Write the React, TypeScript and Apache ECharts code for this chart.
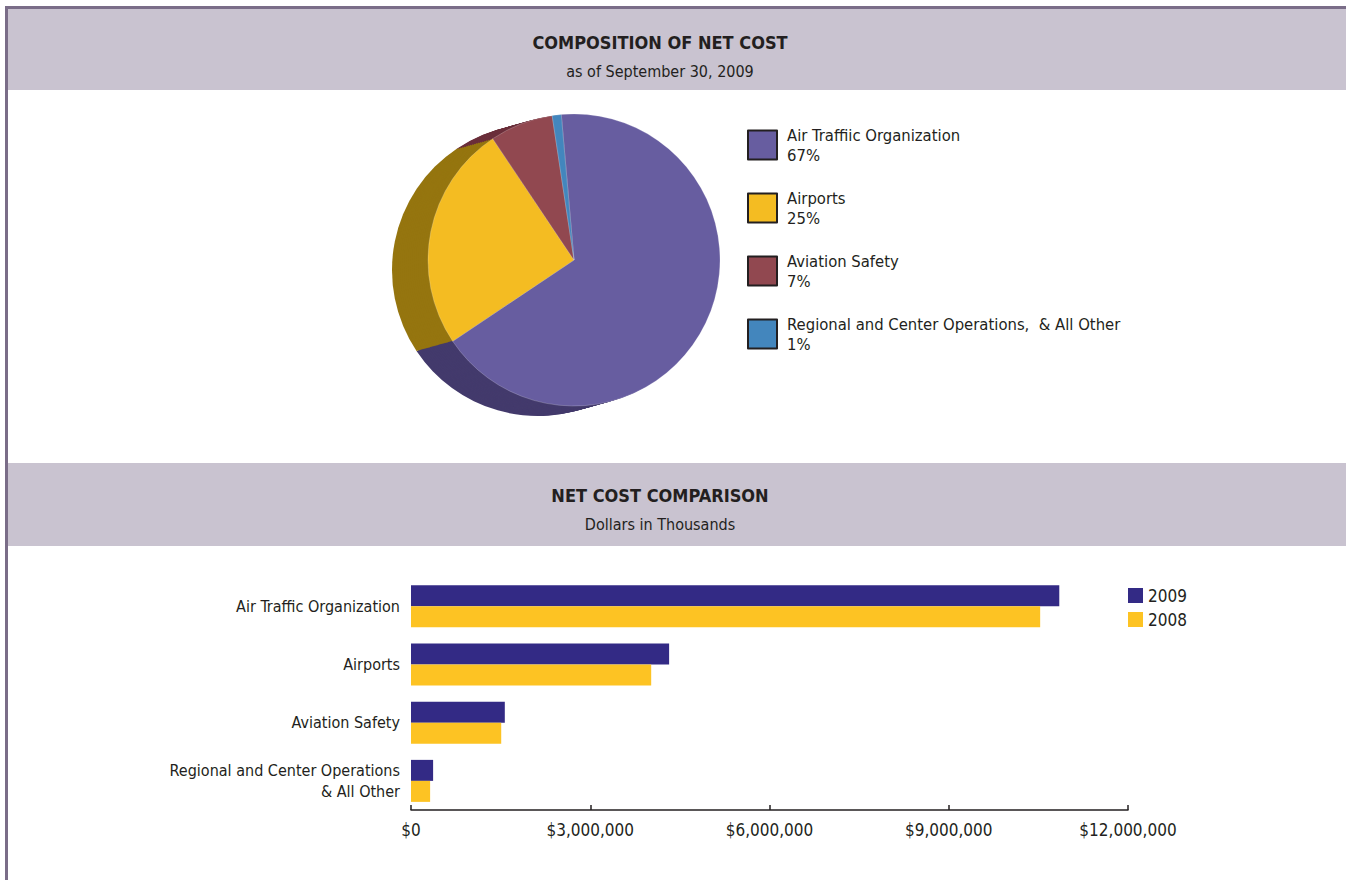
import React, { useEffect, useRef } from "react";
import * as echarts from "echarts";

const pieNames = [
  "Air Traffiic Organization",
  "Airports",
  "Aviation Safety",
  "Regional and Center Operations,  & All Other",
];
const pieShares = [67, 25, 7, 1];
const pieColors = ["#675da0", "#f4bc22", "#914850", "#4386bd"];
const pieSideColors = ["#433a6c", "#95750f", "#6b2f3b", "#2f6591"];

const barCategories = [
  "Air Traffic Organization",
  "Airports",
  "Aviation Safety",
  "Regional and Center Operations\n& All Other",
];
const years = ["2009", "2008"];
const values2009 = [10850000, 4320000, 1570000, 370000];
const values2008 = [10530000, 4020000, 1510000, 320000];
const barColors = ["#332a85", "#fdc323"];

const FONT = "'Liberation Sans Narrow', 'DejaVu Sans Condensed', 'Arial Narrow', sans-serif";
const INK = "#231f20";

export default function App() {
  const ref = useRef<HTMLDivElement>(null);
  useEffect(() => {
    if (!ref.current) return;
    const chart = echarts.init(ref.current, null, { renderer: "svg" });
    const cx = 574;
    const cy = 260;
    const r = 146;
    const steps = 18;
    const sideSeries: any[] = [];
    for (let i = steps; i >= 1; i--) {
      const t = i / steps;
      sideSeries.push({
        type: "pie",
        silent: true,
        z: 1,
        center: [cx - 36 * t, cy + 10 * t],
        radius: r,
        startAngle: 95,
        clockwise: true,
        label: { show: false },
        labelLine: { show: false },
        emphasis: { disabled: true },
        data: pieShares.map((v, k) => ({
          name: "side_" + k,
          value: v,
          itemStyle: { color: pieSideColors[k] },
        })),
      });
    }
    const option: any = {
      animation: false,
      backgroundColor: "#ffffff",
      textStyle: { fontFamily: FONT },
      graphic: [
        { type: "rect", z: -10, shape: { x: 8, y: 9, width: 1338, height: 81 }, style: { fill: "#c9c3d0" } },
        { type: "rect", z: -10, shape: { x: 8, y: 463, width: 1338, height: 83 }, style: { fill: "#c9c3d0" } },
        { type: "rect", z: -9, shape: { x: 5, y: 6, width: 1341, height: 3 }, style: { fill: "#7a6d88" } },
        { type: "rect", z: -9, shape: { x: 5, y: 6, width: 3, height: 874 }, style: { fill: "#7a6d88" } },
        { type: "text", x: 660, y: 42, style: { text: "COMPOSITION OF NET COST", fill: INK, font: `bold 18px ${FONT}`, textAlign: "center", textVerticalAlign: "middle" } },
        { type: "text", x: 660, y: 71, style: { text: "as of September 30, 2009", fill: INK, font: `16px ${FONT}`, textAlign: "center", textVerticalAlign: "middle" } },
        { type: "text", x: 660, y: 495, style: { text: "NET COST COMPARISON", fill: INK, font: `bold 18px ${FONT}`, textAlign: "center", textVerticalAlign: "middle" } },
        { type: "text", x: 660, y: 524, style: { text: "Dollars in Thousands", fill: INK, font: `16px ${FONT}`, textAlign: "center", textVerticalAlign: "middle" } },
      ],
      legend: [
        {
          orient: "vertical",
          left: 742,
          top: 120,
          itemWidth: 29,
          itemHeight: 29,
          itemGap: 23,
          icon: "rect",
          selectedMode: false,
          itemStyle: { borderColor: INK, borderWidth: 2 },
          textStyle: { fontFamily: FONT, fontSize: 16.5, lineHeight: 20, color: INK, padding: [0, 0, 0, 5] },
          formatter: (name: string) => name + "\n" + pieShares[pieNames.indexOf(name)] + "%",
          data: pieNames.map((n, k) => ({ name: n, itemStyle: { color: pieColors[k] } })),
        },
        {
          orient: "vertical",
          left: 1123,
          top: 582,
          itemWidth: 15,
          itemHeight: 15,
          itemGap: 7,
          icon: "rect",
          selectedMode: false,
          textStyle: { fontFamily: FONT, fontSize: 17, color: INK },
          data: years.map((y, k) => ({ name: y, itemStyle: { color: barColors[k] } })),
        },
      ],
      grid: { left: 411, right: 218, top: 577, bottom: 70, containLabel: false },
      xAxis: {
        type: "value",
        min: 0,
        max: 12000000,
        interval: 3000000,
        splitLine: { show: false },
        axisLine: { show: true, lineStyle: { color: INK, width: 1.5 } },
        axisTick: { show: true, inside: true, length: 5, lineStyle: { color: INK, width: 1.5 } },
        axisLabel: {
          color: INK,
          fontFamily: FONT,
          fontSize: 17,
          margin: 11,
          formatter: (v: number) => "$" + v.toLocaleString("en-US"),
        },
      },
      yAxis: {
        type: "category",
        inverse: true,
        data: barCategories,
        axisLine: { show: false },
        axisTick: { show: false },
        axisLabel: { color: INK, fontFamily: FONT, fontSize: 16, lineHeight: 21, margin: 11, align: "right" },
      },
      series: [
        ...sideSeries,
        {
          type: "pie",
          silent: true,
          z: 3,
          center: [cx, cy],
          radius: r,
          startAngle: 95,
          clockwise: true,
          label: { show: false },
          labelLine: { show: false },
          emphasis: { disabled: true },
          itemStyle: { borderColor: "rgba(255,255,255,0.35)", borderWidth: 0.6 },
          data: pieNames.map((n, k) => ({ name: n, value: pieShares[k], itemStyle: { color: pieColors[k] } })),
        },
        {
          type: "bar",
          name: years[0],
          data: values2009,
          barWidth: 21,
          barGap: "0%",
          itemStyle: { color: barColors[0] },
          silent: true,
        },
        {
          type: "bar",
          name: years[1],
          data: values2008,
          barWidth: 21,
          barGap: "0%",
          itemStyle: { color: barColors[1] },
          silent: true,
        },
      ],
    };
    chart.setOption(option);
    return () => chart.dispose();
  }, []);
  return <div ref={ref} style={{ position: "fixed", left: 0, top: 0, width: 1346, height: 880 }} />;
}
